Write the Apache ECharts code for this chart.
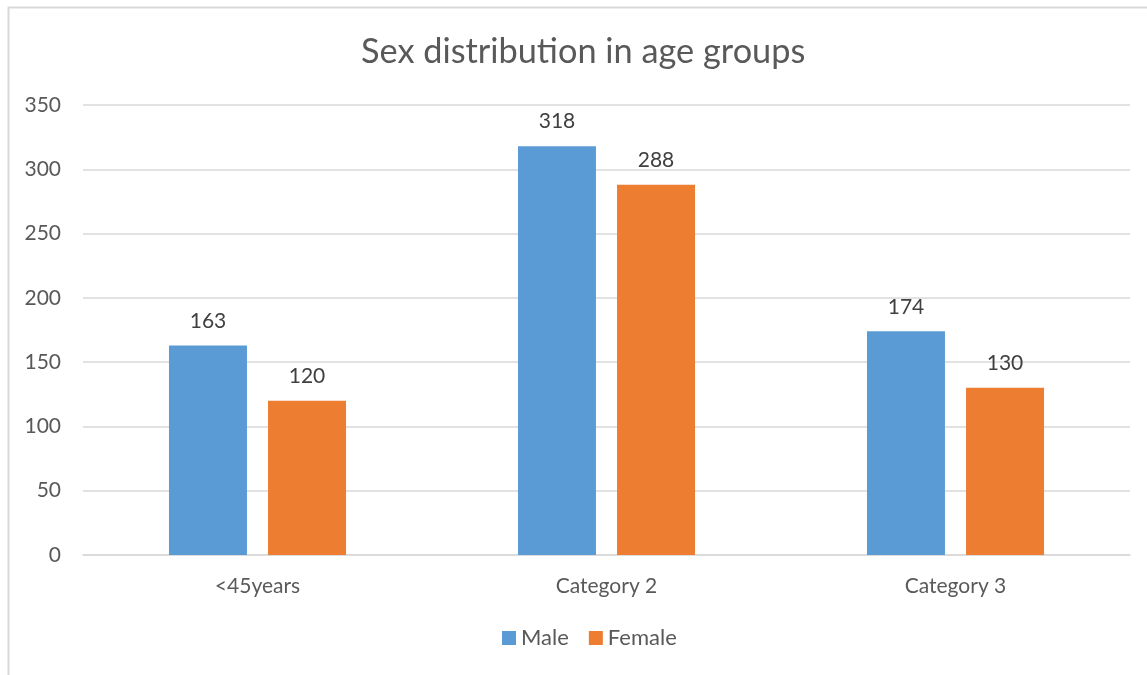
<!DOCTYPE html>
<html><head><meta charset="utf-8">
<script src="https://cdn.jsdelivr.net/npm/echarts@6/dist/echarts.min.js"></script>
<style>html,body{margin:0;padding:0;background:#fff}#c{width:1147px;height:675px}</style>
</head><body><div id="c"></div>
<script>
const categories = ['<45years', 'Category 2', 'Category 3'];
const male = [163, 318, 174];
const female = [120, 288, 130];
const yTicks = [0, 50, 100, 150, 200, 250, 300, 350];

const FONT = 'Lato, "Open Sans", sans-serif';
const chart = echarts.init(document.getElementById('c'), null, {renderer: 'canvas'});
chart.setOption({
  animation: false,
  textStyle: {fontFamily: FONT},
  graphic: [{
    type: 'rect', left: 6, top: 5, z: -1,
    shape: {width: 1200, height: 720},
    style: {fill: 'none', stroke: '#D9D9D9', lineWidth: 2}
  }],
  title: {
    text: 'Sex distribution in age groups', left: 356, top: 30,
    textStyle: {fontSize: 34.3, fontWeight: 'normal', color: '#595959', fontFamily: FONT}
  },
  legend: {
    bottom: 21, left: 497, itemWidth: 14, itemHeight: 14, itemGap: 20,
    icon: 'rect',
    textStyle: {fontSize: 22, color: '#595959', fontFamily: FONT},
    data: ['Male', 'Female']
  },
  grid: {left: 83, right: 17, top: 105, bottom: 120, containLabel: false},
  xAxis: {
    type: 'category', data: categories,
    axisLine: {lineStyle: {color: '#D9D9D9', width: 1.5}},
    axisTick: {show: false},
    axisLabel: {fontSize: 21, color: '#595959', margin: 21, fontFamily: FONT}
  },
  yAxis: {
    type: 'value', min: yTicks[0], max: yTicks[yTicks.length - 1], interval: 50,
    axisLine: {show: false}, axisTick: {show: false},
    splitLine: {lineStyle: {color: '#D9D9D9', width: 1.5}},
    axisLabel: {fontSize: 21, color: '#595959', margin: 22, fontFamily: FONT}
  },
  series: [
    {name: 'Male', type: 'bar', data: male, barWidth: 78, barGap: '27%',
     itemStyle: {color: '#5B9BD5'},
     label: {show: true, position: 'top', distance: 14, fontSize: 21, color: '#404040', fontFamily: FONT}},
    {name: 'Female', type: 'bar', data: female, barWidth: 78, barGap: '27%',
     itemStyle: {color: '#ED7D31'},
     label: {show: true, position: 'top', distance: 14, fontSize: 21, color: '#404040', fontFamily: FONT}}
  ]
});
</script></body></html>
